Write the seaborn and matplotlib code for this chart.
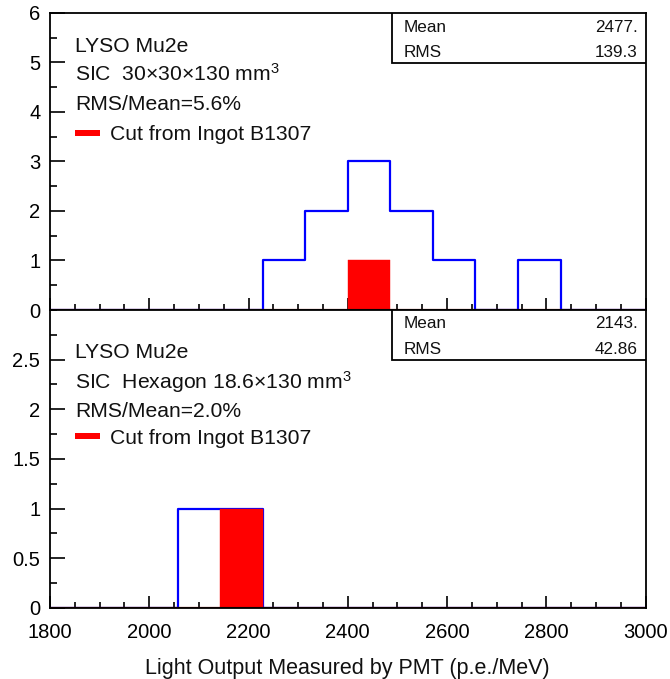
import numpy as np
import pandas as pd
import matplotlib
matplotlib.use("Agg")
import matplotlib.pyplot as plt
from matplotlib.patches import Rectangle
import seaborn as sns

# Binning shared by both panels: 14 bins over 1800-3000 p.e./MeV
x_min, x_max, n_bins = 1800, 3000, 14

# Top panel: SIC 30x30x130 mm^3 crystals
top_counts = [0, 0, 0, 0, 0, 1, 2, 3, 2, 1, 0, 1, 0, 0]
top_ingot = [0, 0, 0, 0, 0, 0, 0, 1, 0, 0, 0, 0, 0, 0]
top_labels = ["LYSO Mu2e", "SIC  30$\\times$30$\\times$130 mm$^{3}$", "RMS/Mean=5.6%"]
top_stats = ["2477.", "139.3"]

# Bottom panel: SIC hexagon crystals
bot_counts = [0, 0, 0, 1, 1, 0, 0, 0, 0, 0, 0, 0, 0, 0]
bot_ingot = [0, 0, 0, 0, 1, 0, 0, 0, 0, 0, 0, 0, 0, 0]
bot_labels = ["LYSO Mu2e", "SIC  Hexagon 18.6$\\times$130 mm$^{3}$", "RMS/Mean=2.0%"]
bot_stats = ["2143.", "42.86"]

legend_label = "Cut from Ingot B1307"
x_title = "Light Output Measured by PMT (p.e./MeV)"

sns.set_style("ticks")
plt.rcParams["font.family"] = ["Liberation Sans", "DejaVu Sans"]
plt.rcParams["mathtext.fontset"] = "custom"
plt.rcParams["mathtext.rm"] = "Liberation Sans"
plt.rcParams["mathtext.it"] = "Liberation Sans:italic"
plt.rcParams["mathtext.bf"] = "Liberation Sans:bold"

edges = np.linspace(x_min, x_max, n_bins + 1)
centers = 0.5 * (edges[:-1] + edges[1:])
bin_list = [float(e) for e in edges]

fig = plt.figure(figsize=(6.7, 6.79), dpi=100)
ax_top = fig.add_axes([0.0746, 0.5434, 0.889, 0.4378])
ax_bot = fig.add_axes([0.0746, 0.1046, 0.889, 0.4389])


def draw_panel(ax, counts, ingot, labels, stats, ymax, yminor, ylabels_pos, text_y, stat_y):
    df = pd.DataFrame({"lo": centers, "n": np.asarray(counts, float),
                       "ingot": np.asarray(ingot, float)})
    sns.histplot(data=df, x="lo", weights="n", bins=bin_list, element="step",
                 fill=False, color="#0000ff", linewidth=1.6, ax=ax, zorder=3)
    sns.histplot(data=df, x="lo", weights="ingot", bins=bin_list, element="bars",
                 fill=True, color="#ff0000", alpha=1.0, edgecolor="#ff0000",
                 linewidth=0.3, ax=ax, zorder=4)
    ax.axhline(0, color="#7a0000", linewidth=1.6, zorder=5)
    ax.set_xlim(x_min, x_max)
    ax.set_ylim(0, ymax)
    ax.set_xlabel("")
    ax.set_ylabel("")

    ax.set_xticks(np.arange(1800, 3001, 200))
    ax.set_xticks(np.arange(1800, 3001, 50), minor=True)
    ax.set_yticks(ylabels_pos)
    ax.set_yticks(np.arange(0, ymax + 1e-9, yminor), minor=True)
    ax.tick_params(axis="both", which="both", direction="in", top=False, right=False,
                   colors="black", labelsize=14.5, width=1.2)
    ax.tick_params(axis="x", which="major", length=9, pad=10.5)
    ax.tick_params(axis="x", which="minor", length=4.5)
    ax.tick_params(axis="y", which="major", length=11, pad=7)
    ax.tick_params(axis="y", which="minor", length=5)
    ax.yaxis.set_major_formatter(matplotlib.ticker.FuncFormatter(lambda v, p: f"{v:g}"))
    for s in ax.spines.values():
        s.set_color("black")
        s.set_linewidth(1.3)
        s.set_zorder(6)

    # annotation block
    for lbl, y in zip(labels, text_y[:3]):
        ax.text(0.042, y, lbl, transform=ax.transAxes, fontsize=15.2,
                ha="left", va="center", color="#111111")
    ax.add_patch(Rectangle((0.042, text_y[3] - 0.012), 0.042, 0.021, transform=ax.transAxes,
                           facecolor="#ff0000", edgecolor="none", zorder=7))
    ax.text(0.1, text_y[3] - 0.008, legend_label, transform=ax.transAxes, fontsize=15.2,
            ha="left", va="center", color="#111111")

    # statistics box
    ax.add_patch(Rectangle((0.574, 1 - 0.168), 0.426, 0.168, transform=ax.transAxes,
                           facecolor="white", edgecolor="black", linewidth=1.3, zorder=8))
    for name, val, y in zip(["Mean", "RMS"], stats, stat_y):
        ax.text(0.594, y, name, transform=ax.transAxes, fontsize=12.3,
                ha="left", va="center", color="#111111", zorder=9)
        ax.text(0.987, y, val, transform=ax.transAxes, fontsize=12.3,
                ha="right", va="center", color="#111111", zorder=9)


draw_panel(ax_top, top_counts, top_ingot, top_labels, top_stats,
           6, 0.5, np.arange(0, 7, 1),
           [0.888, 0.794, 0.693, 0.598], [0.952, 0.868])
draw_panel(ax_bot, bot_counts, bot_ingot, bot_labels, bot_stats,
           3, 0.25, np.arange(0, 2.51, 0.5),
           [0.856, 0.758, 0.658, 0.578], [0.953, 0.869])

ax_top.tick_params(axis="x", labelbottom=False)
ax_bot.set_xlabel(x_title, fontsize=15.5, labelpad=12, color="#111111")

fig.savefig("out.png", dpi=100)
